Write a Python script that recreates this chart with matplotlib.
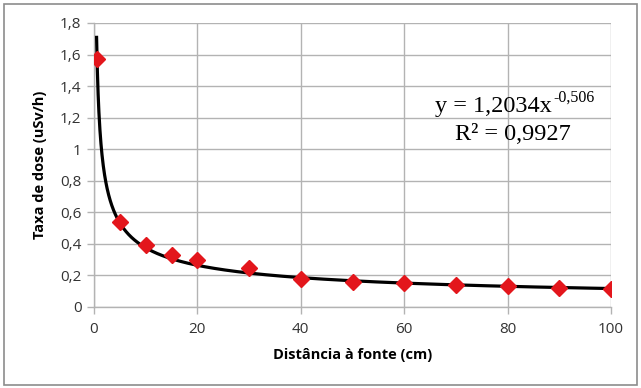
import numpy as np
import matplotlib
matplotlib.use("Agg")
import matplotlib.pyplot as plt
from matplotlib.patches import Rectangle
from matplotlib.transforms import offset_copy

# Data
distance_cm = [0.5, 5, 10, 15, 20, 30, 40, 50, 60, 70, 80, 90, 100]
dose_rate = [1.57, 0.54, 0.39, 0.33, 0.30, 0.25, 0.18, 0.16, 0.15, 0.14, 0.13, 0.12, 0.115]
fit_coef = 1.2034
fit_exp = -0.506
x_ticks = [0, 20, 40, 60, 80, 100]
y_ticks = [0, 0.2, 0.4, 0.6, 0.8, 1.0, 1.2, 1.4, 1.6, 1.8]
y_tick_labels = ["0", "0,2", "0,4", "0,6", "0,8", "1", "1,2", "1,4", "1,6", "1,8"]

fig = plt.figure(figsize=(6.41, 3.88), dpi=100)
ax = fig.add_axes([94/641, 1-307/388, (611-94)/641, (307-23)/388])

grid_c = "#b3b3b3"
xfit = np.linspace(distance_cm[0], distance_cm[-1], 2000)
yfit = fit_coef * xfit ** fit_exp
ax.plot(xfit, yfit, color="black", lw=2.3, zorder=3)
ax.plot(distance_cm, dose_rate, linestyle="none", marker="D", markersize=8,
        color="#e3161c", markeredgecolor="#e3161c", zorder=4)

ax.set_xlim(0, 100)
ax.set_ylim(0, 1.8)
ax.set_xticks(x_ticks)
ax.set_xticklabels([str(t) for t in x_ticks])
ax.set_yticks(y_ticks)
ax.set_yticklabels(y_tick_labels)
ax.grid(True, color=grid_c, lw=1)
ax.set_axisbelow(True)
for s in ["top", "right"]:
    ax.spines[s].set_visible(False)
for s in ["left", "bottom"]:
    ax.spines[s].set_color(grid_c)
    ax.spines[s].set_linewidth(1)
ax.tick_params(axis="both", colors=grid_c, length=5, width=1, labelcolor="#333333",
               labelsize=11)
for lab in ax.get_xticklabels() + ax.get_yticklabels():
    lab.set_family(["Open Sans", "DejaVu Sans"])
ax.tick_params(axis="x", pad=6)
ax.tick_params(axis="y", pad=4)

ax.set_xlabel("Distância à fonte (cm)", fontsize=10.5, fontweight="bold",
              family=["Open Sans", "DejaVu Sans"], labelpad=8)
ax.set_ylabel("Taxa de dose (uSv/h)", fontsize=10.5, fontweight="bold",
              family=["Open Sans", "DejaVu Sans"], labelpad=9)

# Trendline equation (main text + superscript exponent)
main = ax.text(0.66, 0.685, "y = 1,2034x", transform=ax.transAxes,
               ha="left", va="baseline", fontsize=17.5, family="Liberation Serif")
fig.canvas.draw()
renderer = fig.canvas.get_renderer()
bb = main.get_window_extent(renderer=renderer)
inv = ax.transAxes.inverted()
x_end = inv.transform((bb.x1, bb.y0))[0]
ax.text(x_end + 0.002, 0.685, "-0,506",
        transform=offset_copy(ax.transAxes, fig=fig, y=8, units="points"),
        ha="left", va="baseline", fontsize=11.5, family="Liberation Serif")
ax.text(0.810, 0.606, "R² = 0,9927", transform=ax.transAxes,
        ha="center", va="center", fontsize=17.5, family="Liberation Serif")

fig.patches.append(Rectangle((4/641, 3/388), 633/641, 381/388, transform=fig.transFigure,
                             fill=False, edgecolor="#8c8c8c", lw=1.2))

fig.savefig("out.png", dpi=100)
